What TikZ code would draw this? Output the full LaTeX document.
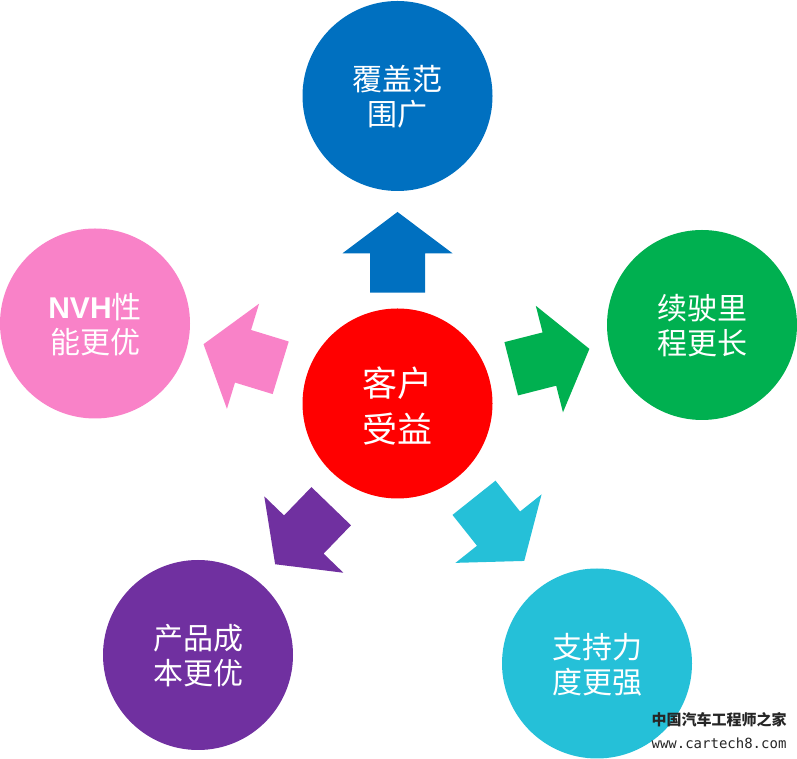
\documentclass[tikz,border=0pt]{standalone}
\usepackage{fontspec}
\usepackage{tikz}
\usetikzlibrary{calc}
\newfontfamily\cjkFont{Noto Sans CJK SC}
\newfontfamily\nvhFont{Liberation Sans}
\newfontfamily\urlFont{DejaVu Sans Mono}
\tikzstyle{diagram} = [x = 1pt, y = 1pt]
\definecolor{hubColor}{RGB}{255,0,0}
\definecolor{coverColor}{RGB}{0,112,192}
\definecolor{rangeColor}{RGB}{0,176,80}
\definecolor{supportColor}{RGB}{37,192,216}
\definecolor{costColor}{RGB}{112,48,160}
\definecolor{nvhColor}{RGB}{249,130,200}
\tikzstyle{benefitCircle} = [circle, minimum size = 190pt, inner sep = 0pt, text = white, align = center, text height = 62pt, font = \cjkFont\fontsize{30}{35}\selectfont]
\tikzstyle{hubCircle} = [benefitCircle, fill = hubColor, text height = 80pt, font = \cjkFont\fontsize{35}{46}\selectfont]
\tikzstyle{watermarkText} = [inner sep = 0pt, text = black!85]
\newcommand{\blockArrow}[3]{\fill [#3, shift = {#1}, rotate = #2] (0,-27.5) -- (39.4,-27.5) -- (39.4,-55) -- (80.7,0) -- (39.4,55) -- (39.4,27.5) -- (0,27.5) -- cycle;}

\begin{document}
\begin{tikzpicture}[diagram]
\useasboundingbox (0,0) rectangle (797,759);
\node [hubCircle] (hub) at (397.5,355.5) {客户\\受益};
\node [benefitCircle, fill = coverColor] (cover) at (397.5,663) {覆盖范\\围广};
\node [benefitCircle, fill = rangeColor] (range) at (702,434) {续驶里\\程更长};
\node [benefitCircle, fill = supportColor] (support) at (597,95.5) {支持力\\度更强};
\node [benefitCircle, fill = costColor] (cost) at (198,104) {产品成\\本更优};
\node [benefitCircle, fill = nvhColor] (nvh) at (95,435.5) {{\nvhFont\bfseries NVH}性\\能更优};
\blockArrow{($(hub) + (0,110.8)$)}{90}{coverColor}
\blockArrow{($(hub) + (113.7,34.7)$)}{14.3}{rangeColor}
\blockArrow{($(hub) + (76.5,-94.3)$)}{-51.5}{supportColor}
\blockArrow{($(hub) + (-66.3,-102.7)$)}{226}{costColor}
\blockArrow{($(hub) + (-116.8,35.7)$)}{163}{nvhColor}
\node [watermarkText, font = \cjkFont\bfseries\fontsize{15}{15}\selectfont] (siteName) at (719,39) {中国汽车工程师之家};
\node [watermarkText, font = \urlFont\fontsize{14}{14}\selectfont] (siteUrl) at (719,15.5) {www.cartech8.com};
\end{tikzpicture}
\end{document}
